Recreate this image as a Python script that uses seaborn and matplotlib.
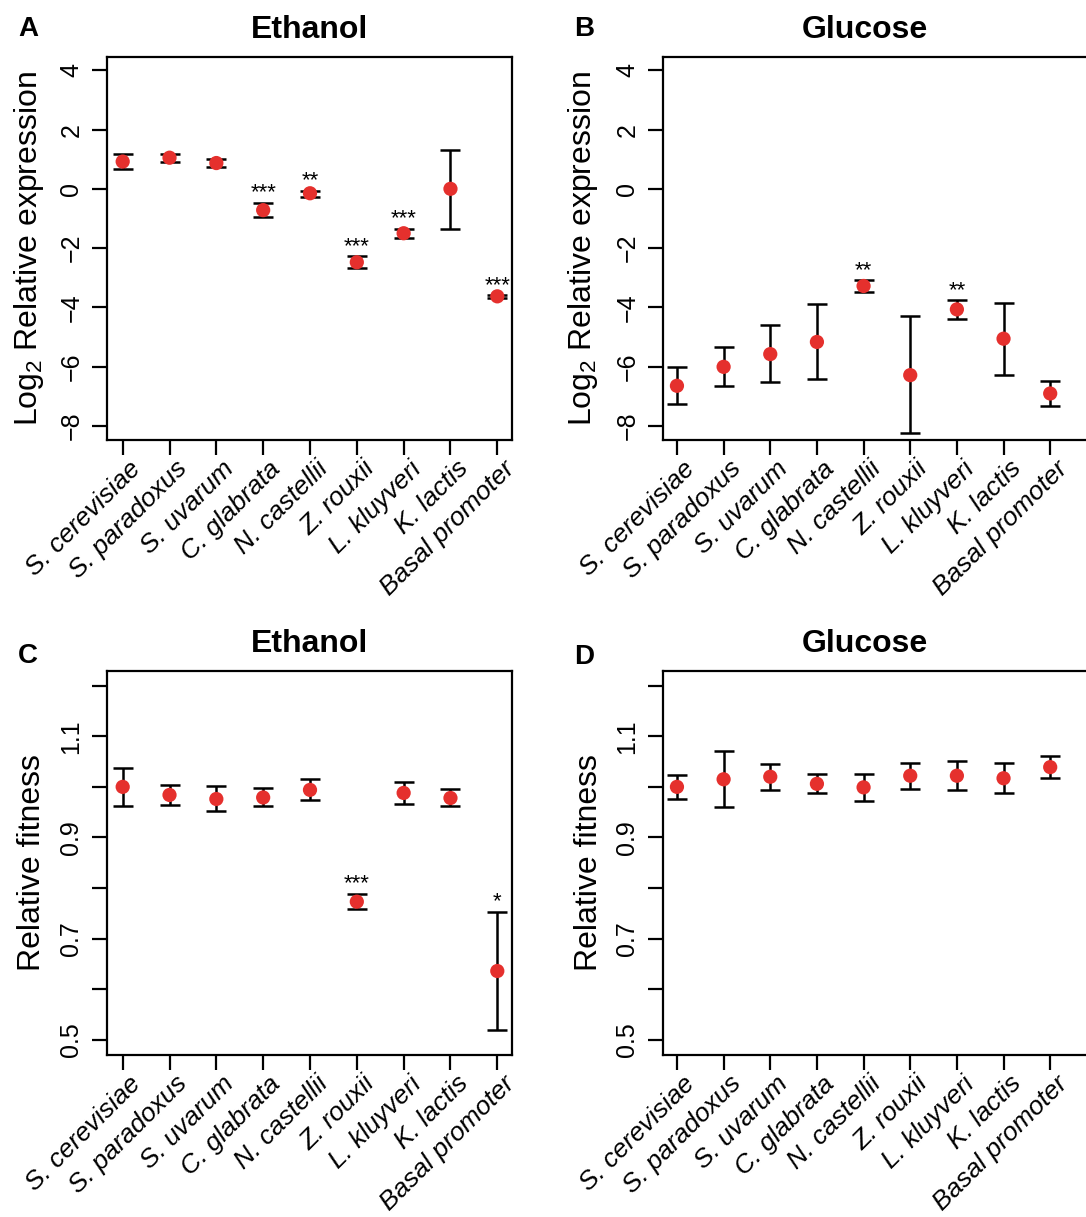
import numpy as np
import pandas as pd
import matplotlib
matplotlib.use("Agg")
import matplotlib.pyplot as plt
import matplotlib.transforms as mtransforms
import seaborn as sns

species = ["S. cerevisiae", "S. paradoxus", "S. uvarum", "C. glabrata", "N. castellii",
           "Z. rouxii", "L. kluyveri", "K. lactis", "Basal promoter"]

# A: expression in ethanol (log2)
expr_eth = [0.92, 1.05, 0.87, -0.72, -0.15, -2.48, -1.50, 0.00, -3.63]
expr_eth_lo = [0.66, 0.90, 0.74, -0.94, -0.27, -2.68, -1.66, -1.35, -3.68]
expr_eth_hi = [1.17, 1.17, 1.00, -0.47, -0.06, -2.27, -1.35, 1.31, -3.59]
expr_eth_sig = ["", "", "", "***", "**", "***", "***", "", "***"]

# B: expression in glucose (log2)
expr_glu = [-6.65, -6.01, -5.58, -5.17, -3.28, -6.29, -4.07, -5.06, -6.91]
expr_glu_lo = [-7.26, -6.66, -6.53, -6.41, -3.49, -8.26, -4.39, -6.28, -7.34]
expr_glu_hi = [-6.02, -5.35, -4.60, -3.90, -3.09, -4.30, -3.75, -3.85, -6.48]
expr_glu_sig = ["", "", "", "", "**", "", "**", "", ""]

# C: fitness in ethanol
fit_eth = [1.000, 0.984, 0.976, 0.979, 0.994, 0.773, 0.988, 0.978, 0.636]
fit_eth_lo = [0.963, 0.965, 0.952, 0.963, 0.974, 0.759, 0.967, 0.963, 0.520]
fit_eth_hi = [1.038, 1.003, 1.001, 0.997, 1.015, 0.789, 1.009, 0.995, 0.753]
fit_eth_sig = ["", "", "", "", "", "***", "", "", "*"]

# D: fitness in glucose
fit_glu = [1.000, 1.015, 1.020, 1.006, 0.999, 1.022, 1.022, 1.017, 1.039]
fit_glu_lo = [0.976, 0.960, 0.993, 0.988, 0.973, 0.996, 0.993, 0.987, 1.018]
fit_glu_hi = [1.024, 1.071, 1.045, 1.025, 1.026, 1.048, 1.052, 1.047, 1.061]
fit_glu_sig = [""] * 9

RED = "#E5302D"

sns.set_style("ticks")
plt.rcParams["font.family"] = ["Liberation Sans", "DejaVu Sans"]
plt.rcParams["mathtext.default"] = "regular"
plt.rcParams["text.color"] = "black"
plt.rcParams["axes.labelcolor"] = "black"
plt.rcParams["xtick.color"] = "black"
plt.rcParams["ytick.color"] = "black"

W, H = 1086, 1217
fig = plt.figure(figsize=(W / 100, H / 100), dpi=100)


def box(l, r, t, b):
    return [l / W, 1 - b / H, (r - l) / W, (b - t) / H]


def panel(ax, mean, lo, hi, sig, title, ylabel, yticks, ylabels, ylim, xlim, ylab_x):
    df = pd.DataFrame({"species": species, "value": mean, "lo": lo, "hi": hi})
    yerr = [df["value"] - df["lo"], df["hi"] - df["value"]]
    ax.errorbar(df["species"], df["value"], yerr=yerr, fmt="none", ecolor="black",
                elinewidth=1.8, capsize=7, capthick=1.8, zorder=2)
    sns.scatterplot(data=df, x="species", y="value", ax=ax, color=RED, s=105,
                    edgecolor="none", zorder=3)
    for sp, top, s in zip(species, hi, sig):
        if s:
            ax.annotate(s, (sp, top), xytext=(0, 3), textcoords="offset points",
                        ha="center", va="baseline", fontsize=16)

    ax.set_xlim(*xlim)
    ax.set_ylim(*ylim)
    ax.set_yticks(yticks)
    ax.set_yticklabels(ylabels)
    ax.set_title(title, fontsize=23, fontweight="bold", pad=14)
    ax.set_xlabel("")
    ax.set_ylabel(ylabel, fontsize=23)
    ax.yaxis.label.set_va("center")
    ax.yaxis.set_label_coords(ylab_x, 0.5)

    for sp in ax.spines.values():
        sp.set_visible(True)
        sp.set_linewidth(1.6)
        sp.set_color("black")
    ax.tick_params(axis="both", length=11, width=1.6, color="black")
    ax.tick_params(axis="y", labelsize=18, pad=6, labelrotation=90)
    for lab in ax.get_yticklabels():
        lab.set_va("center")
    ax.tick_params(axis="x", labelsize=19, pad=7)
    off = mtransforms.ScaledTranslation(10 / 72, 0, fig.dpi_scale_trans)
    for lab in ax.get_xticklabels():
        lab.set_rotation(45)
        lab.set_ha("right")
        lab.set_va("center")
        lab.set_rotation_mode("anchor")
        lab.set_fontstyle("italic")
        lab.set_transform(lab.get_transform() + off)


expr_ticks = [-8, -6, -4, -2, 0, 2, 4]
expr_labels = ["\u22128", "\u22126", "\u22124", "\u22122", "0", "2", "4"]
fit_ticks = [0.5, 0.6, 0.7, 0.8, 0.9, 1.0, 1.1, 1.2]
fit_labels = ["0.5", "", "0.7", "", "0.9", "", "1.1", ""]
expr_lim = (-8.48, 4.45)
fit_lim = (0.470, 1.229)
left_xlim = (-0.335, 8.314)
right_xlim = (-0.299, 8.853)

axA = fig.add_axes(box(107, 512, 57, 440))
axB = fig.add_axes(box(663, 1090, 57, 440))
axC = fig.add_axes(box(107, 512, 671, 1055))
axD = fig.add_axes(box(663, 1090, 671, 1055))

panel(axA, expr_eth, expr_eth_lo, expr_eth_hi, expr_eth_sig, "Ethanol",
      "Log$_2$ Relative expression", expr_ticks, expr_labels, expr_lim, left_xlim, -0.193)
panel(axB, expr_glu, expr_glu_lo, expr_glu_hi, expr_glu_sig, "Glucose",
      "Log$_2$ Relative expression", expr_ticks, expr_labels, expr_lim, right_xlim, -0.187)
panel(axC, fit_eth, fit_eth_lo, fit_eth_hi, fit_eth_sig, "Ethanol",
      "Relative fitness", fit_ticks, fit_labels, fit_lim, left_xlim, -0.185)
panel(axD, fit_glu, fit_glu_lo, fit_glu_hi, fit_glu_sig, "Glucose",
      "Relative fitness", fit_ticks, fit_labels, fit_lim, right_xlim, -0.173)

for letter, x, y in [("A", 28, 29), ("B", 584, 29), ("C", 28, 656), ("D", 584, 657)]:
    fig.text(x / W, 1 - y / H, letter, fontsize=20, fontweight="bold",
             ha="center", va="center")

# the right-hand boxes run off the page; keep their titles where the original has them
axB.title.set_position(((865 - 663) / (1090 - 663), 1.0))
axD.title.set_position(((865 - 663) / (1090 - 663), 1.0))

fig.savefig("out.png", dpi=100)
